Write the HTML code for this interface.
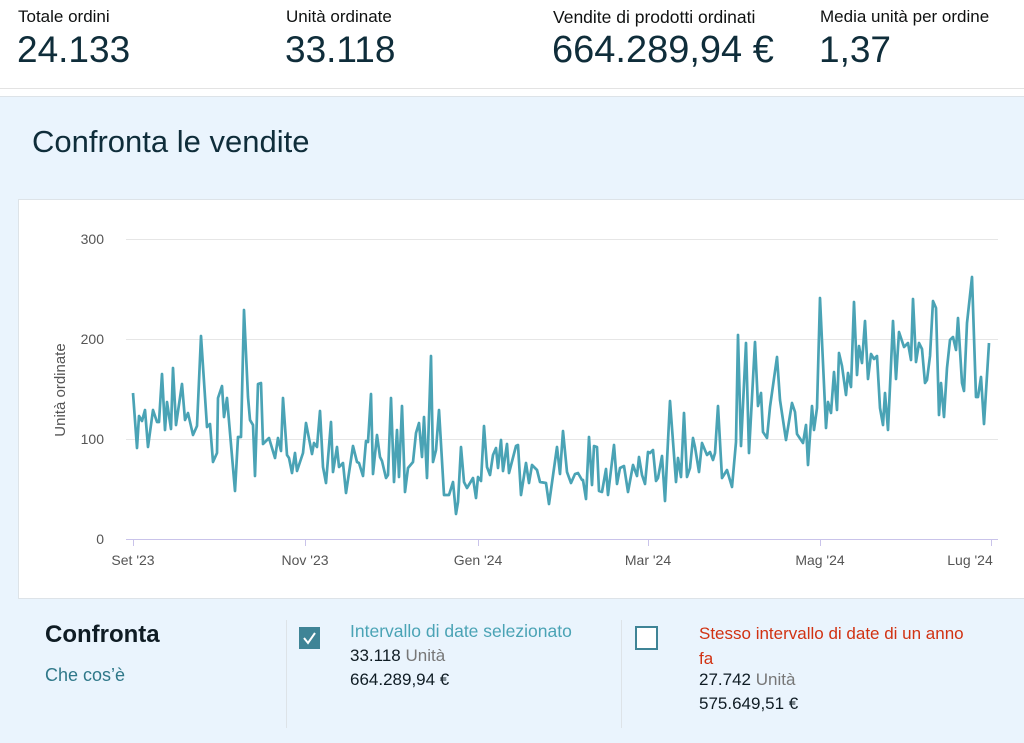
<!DOCTYPE html>
<html><head><meta charset="utf-8"><style>
*{margin:0;padding:0;box-sizing:border-box}
body{width:1024px;height:743px;overflow:hidden;background:#fff;font-family:"Liberation Sans",sans-serif;color:#0f1111;position:relative}
.a{position:absolute;white-space:nowrap}
.lbl{font-size:17px;color:#0f1111;top:7px}
.big{font-size:37px;color:#0f2d3a;top:29px}
</style></head><body>
<div class="a lbl" style="left:18px">Totale ordini</div>
<div class="a big" style="left:17px">24.133</div>
<div class="a lbl" style="left:286px">Unità ordinate</div>
<div class="a big" style="left:285px">33.118</div>
<div class="a lbl" style="left:553px;font-size:17.5px">Vendite di prodotti ordinati</div>
<div class="a big" style="left:552px;font-size:38px">664.289,94 €</div>
<div class="a lbl" style="left:820px">Media unità per ordine</div>
<div class="a big" style="left:819px">1,37</div>
<div class="a" style="left:0;top:88px;width:1024px;height:1px;background:#e3e3e3"></div>
<div class="a" style="left:0;top:96px;width:1024px;height:647px;background:#eaf4fd;border-top:1px solid #dde3e8"></div>
<div class="a" style="left:32px;top:124px;font-size:31px;color:#0f2d3a">Confronta le vendite</div>
<div class="a" style="left:18px;top:199px;width:1006px;height:400px;background:#fff;border:1px solid #dde3e8;border-right:none"></div>
<svg class="a" style="left:0;top:0" width="1024" height="743">
<g stroke="#e6e6e6" stroke-width="1">
<line x1="126" y1="239.5" x2="998" y2="239.5"/><line x1="126" y1="339.5" x2="998" y2="339.5"/><line x1="126" y1="439.5" x2="998" y2="439.5"/>
</g>
<line x1="126" y1="539.5" x2="998" y2="539.5" stroke="#c9c3ea" stroke-width="1"/>
<g stroke="#c9c3ea"><line x1="133.5" y1="539" x2="133.5" y2="546"/><line x1="305.5" y1="539" x2="305.5" y2="546"/><line x1="478.5" y1="539" x2="478.5" y2="546"/><line x1="648.5" y1="539" x2="648.5" y2="546"/><line x1="820.5" y1="539" x2="820.5" y2="546"/><line x1="991.5" y1="539" x2="991.5" y2="546"/></g>
<g font-family="Liberation Sans" font-size="14" fill="#555" text-anchor="end">
<text x="104" y="244">300</text><text x="104" y="344">200</text><text x="104" y="444">100</text><text x="104" y="544">0</text></g>
<g font-family="Liberation Sans" font-size="14" fill="#555" text-anchor="middle">
<text x="133" y="565">Set '23</text><text x="305" y="565">Nov '23</text><text x="478" y="565">Gen '24</text><text x="648" y="565">Mar '24</text><text x="820" y="565">Mag '24</text><text x="970" y="565">Lug '24</text></g>
<text transform="translate(65,390) rotate(-90)" font-family="Liberation Sans" font-size="15" fill="#555" text-anchor="middle">Unità ordinate</text>
<polyline fill="none" stroke="#4aa3b5" stroke-width="2.7" stroke-linejoin="round" points="133,393 137,448 139,416 142,421 145,410 148,447 153,410 157,422 159,422 162,374 165,430 167,402 171,429 173,368 176,425 182,384 185,420 188,413 193,435 197,426 201,336 207,427 210,424 213,462 217,453 218,398 222,386 224,417 227,398 235,491 238,437 241,437 244,310 248,397 250,420 253,425 255,476 258,384 261,383 263,444 269,438 275,458 278,438 281,451 283,398 287,455 289,458 292,473 295,453 297,471 303,453 306,423 312,454 314,443 317,447 320,411 323,467 326,483 331,422 333,472 337,447 339,467 343,463 346,493 353,446 357,462 359,463 363,476 366,441 368,442 371,394 373,474 377,435 380,457 382,461 386,478 388,475 391,398 394,482 397,430 399,477 402,406 405,492 408,468 413,462 416,433 419,423 422,457 424,417 427,478 431,356 433,462 436,450 439,410 444,495 449,495 453,482 456,514 458,502 461,447 464,482 467,488 473,478 476,498 478,477 481,481 484,426 487,467 490,475 493,455 496,448 498,468 501,440 503,471 507,444 509,473 516,446 518,445 521,495 526,463 529,483 532,465 537,470 540,482 546,483 549,504 557,447 560,474 563,431 567,472 571,483 575,474 578,473 582,480 583,480 586,499 589,437 592,485 594,446 597,447 599,491 602,492 606,469 608,495 614,445 617,484 620,468 624,466 628,492 633,465 637,476 639,457 642,475 645,484 648,452 650,453 653,450 656,481 658,478 662,456 665,501 670,401 676,482 678,458 681,477 684,413 687,477 690,468 693,438 695,447 699,472 702,443 707,455 710,452 713,460 715,453 718,406 722,478 727,470 732,487 736,442 738,335 741,446 746,343 749,453 755,342 758,406 761,393 763,432 767,438 770,407 777,357 780,400 786,440 792,403 795,412 797,434 803,443 806,425 808,465 812,406 814,430 817,408 820,298 826,428 828,402 831,413 834,372 837,410 839,353 842,366 846,395 848,373 851,387 854,302 857,375 859,346 862,363 865,321 868,379 871,354 874,359 877,356 880,408 883,425 885,393 888,430 893,321 896,379 899,332 904,347 908,343 911,360 913,299 916,362 919,343 922,349 925,383 927,380 930,356 933,301 936,308 939,415 941,383 944,417 947,368 950,340 953,337 956,350 958,318 962,383 964,391 967,323 972,277 976,397 978,397 981,377 984,424 989,343"/>
<line x1="286.5" y1="620" x2="286.5" y2="728" stroke="#dde3e8"/>
<line x1="621.5" y1="620" x2="621.5" y2="728" stroke="#dde3e8"/>
<rect x="299" y="627" width="21" height="22" fill="#3f8496"/>
<path d="M304 638 l4 5 l7 -10" stroke="#fff" stroke-width="2" fill="none"/>
<rect x="636" y="627" width="21" height="22" fill="#fff" stroke="#3f8496" stroke-width="2"/>
</svg>
<div class="a" style="left:45px;top:621px;font-size:24px;font-weight:bold;color:#0f1c24">Confronta</div>
<div class="a" style="left:45px;top:665px;font-size:18px;color:#2f7889">Che cos’è</div>
<div class="a" style="left:350px;top:621px;font-size:17.5px;color:#4aa3b5">Intervallo di date selezionato</div>
<div class="a" style="left:350px;top:646px;font-size:17px;color:#0f1c24">33.118 <span style="color:#777">Unità</span></div>
<div class="a" style="left:350px;top:670px;font-size:17px;color:#0f1c24">664.289,94 €</div>
<div class="a" style="left:699px;top:621px;font-size:17px;color:#d13212;line-height:25px">Stesso intervallo di date di un anno<br>fa</div>
<div class="a" style="left:699px;top:670px;font-size:17px;color:#0f1c24">27.742 <span style="color:#777">Unità</span></div>
<div class="a" style="left:699px;top:694px;font-size:17px;color:#0f1c24">575.649,51 €</div>
</body></html>
